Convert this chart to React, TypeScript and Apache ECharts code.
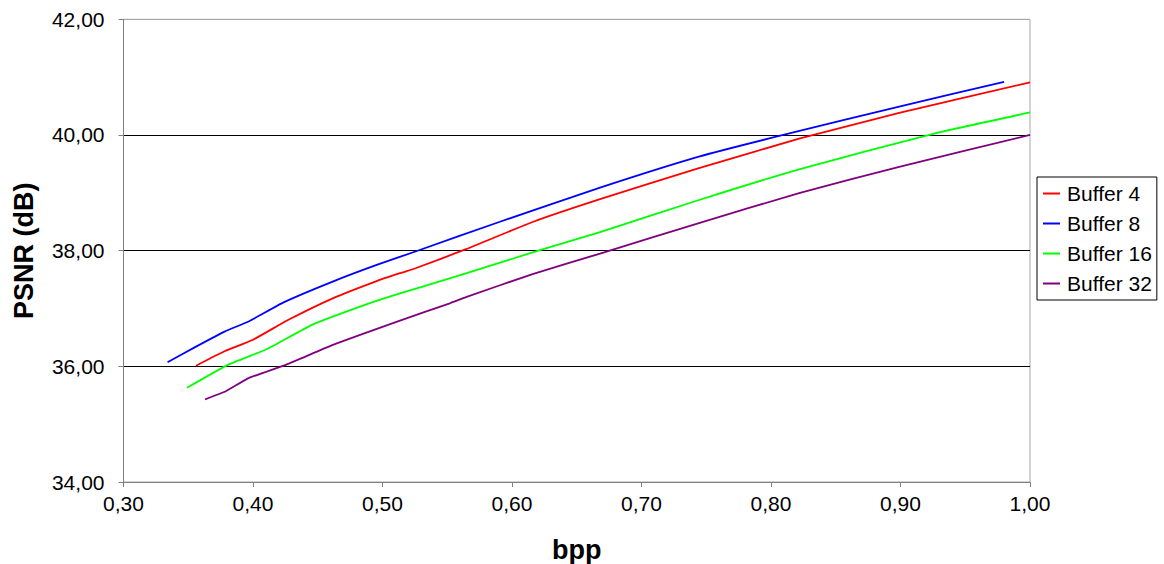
import React, { useEffect, useRef } from "react";
import * as echarts from "echarts";

const seriesNames = ["Buffer 4", "Buffer 8", "Buffer 16", "Buffer 32"];
const seriesColors = ["#ff0000", "#0000ff", "#00ff00", "#800080"];

const buffer4: [number, number][] = [
  [0.356, 36.01], [0.378, 36.26], [0.4, 36.46], [0.427, 36.8], [0.462, 37.18],
  [0.495, 37.47], [0.5135, 37.61], [0.526, 37.7], [0.565, 38.03], [0.6165, 38.5],
  [0.668, 38.89], [0.745, 39.43], [0.8224, 39.94], [0.899, 40.38], [1.0, 40.91],
];
const buffer8: [number, number][] = [
  [0.334, 36.07], [0.356, 36.34], [0.378, 36.6], [0.397, 36.78], [0.424, 37.11],
  [0.462, 37.47], [0.495, 37.75], [0.526, 37.99], [0.5907, 38.5],
  [0.668, 39.09], [0.745, 39.63], [0.811, 40.01], [0.899, 40.49], [0.98, 40.92],
];
const buffer16: [number, number][] = [
  [0.349, 35.63], [0.381, 36.03], [0.41, 36.29], [0.446, 36.72], [0.4875, 37.07],
  [0.5135, 37.26], [0.565, 37.61], [0.6216, 38.01], [0.668, 38.32], [0.745, 38.88],
  [0.8224, 39.41], [0.9253, 40.02], [1.0, 40.39],
];
const buffer32: [number, number][] = [
  [0.363, 35.43], [0.379, 35.57], [0.397, 35.8], [0.4257, 36.03], [0.4617, 36.37],
  [0.5135, 36.79], [0.552, 37.09], [0.565, 37.2], [0.6165, 37.6], [0.668, 37.95],
  [0.745, 38.48], [0.8224, 39.0], [0.899, 39.45], [1.0, 40.0],
];
const seriesData = [buffer4, buffer8, buffer16, buffer32];

const xMin = 0.3;
const xMax = 1.0;
const xStep = 0.1;
const yMin = 34;
const yMax = 42;
const yStep = 2;

const FONT = "'Liberation Sans', Arial, sans-serif";
const fmt = (v: number) => v.toFixed(2).replace(".", ",");

export default function App() {
  const ref = useRef<HTMLDivElement>(null);
  useEffect(() => {
    if (!ref.current) return;
    const chart = echarts.init(ref.current, undefined, { renderer: "svg" });
    chart.setOption({
      animation: false,
      backgroundColor: "#ffffff",
      textStyle: { fontFamily: FONT },
      grid: {
        left: 123.5,
        right: 134,
        top: 19.3,
        bottom: 82,
        outerBoundsMode: "none",
        containLabel: false,
        show: true,
        borderColor: "#a8a8a8",
        borderWidth: 1,
        backgroundColor: "transparent",
      },
      legend: {
        orient: "vertical",
        left: 1037,
        top: 177,
        padding: [6, 5, 6, 6],
        borderColor: "#000000",
        borderWidth: 1,
        itemWidth: 17,
        itemHeight: 2,
        itemGap: 9,
        icon: "rect",
        textStyle: { fontFamily: FONT, fontSize: 21, color: "#000", lineHeight: 21, padding: [0, 0, 0, 2] },
        data: seriesNames,
      },
      xAxis: {
        type: "value",
        min: xMin,
        max: xMax,
        interval: xStep,
        name: "bpp",
        nameLocation: "middle",
        nameGap: 54,
        nameTextStyle: { fontFamily: FONT, fontSize: 27, fontWeight: "bold", color: "#000" },
        axisLine: { show: true, lineStyle: { color: "#808080", width: 1 } },
        axisTick: { show: true, length: 5, lineStyle: { color: "#808080" } },
        axisLabel: {
          fontFamily: FONT,
          fontSize: 21,
          color: "#000",
          margin: 11,
          formatter: (v: number) => fmt(v),
        },
        splitLine: { show: false },
      },
      yAxis: {
        type: "value",
        min: yMin,
        max: yMax,
        interval: yStep,
        name: "PSNR (dB)",
        nameLocation: "middle",
        nameGap: 86,
        nameRotate: 90,
        nameTextStyle: { fontFamily: FONT, fontSize: 27, fontWeight: "bold", color: "#000" },
        axisLine: { show: true, lineStyle: { color: "#808080", width: 1 } },
        axisTick: { show: true, length: 5, lineStyle: { color: "#808080" } },
        axisLabel: {
          fontFamily: FONT,
          fontSize: 21,
          color: "#000",
          margin: 19,
          formatter: (v: number) => fmt(v),
        },
        splitLine: {
          show: true,
          lineStyle: { color: ["#808080", "#000000", "#000000", "#000000", "#a8a8a8"], width: 1 },
        },
      },
      series: seriesNames.map((name, i) => ({
        name,
        type: "line",
        data: seriesData[i],
        showSymbol: false,
        symbol: "none",
        smooth: 0.15,
        lineStyle: { color: seriesColors[i], width: 1.8 },
        itemStyle: { color: seriesColors[i] },
      })),
    });
    return () => chart.dispose();
  }, []);
  return (
    <div
      ref={ref}
      style={{ position: "fixed", left: 0, top: 0, width: 1164, height: 564, background: "#fff" }}
    />
  );
}
